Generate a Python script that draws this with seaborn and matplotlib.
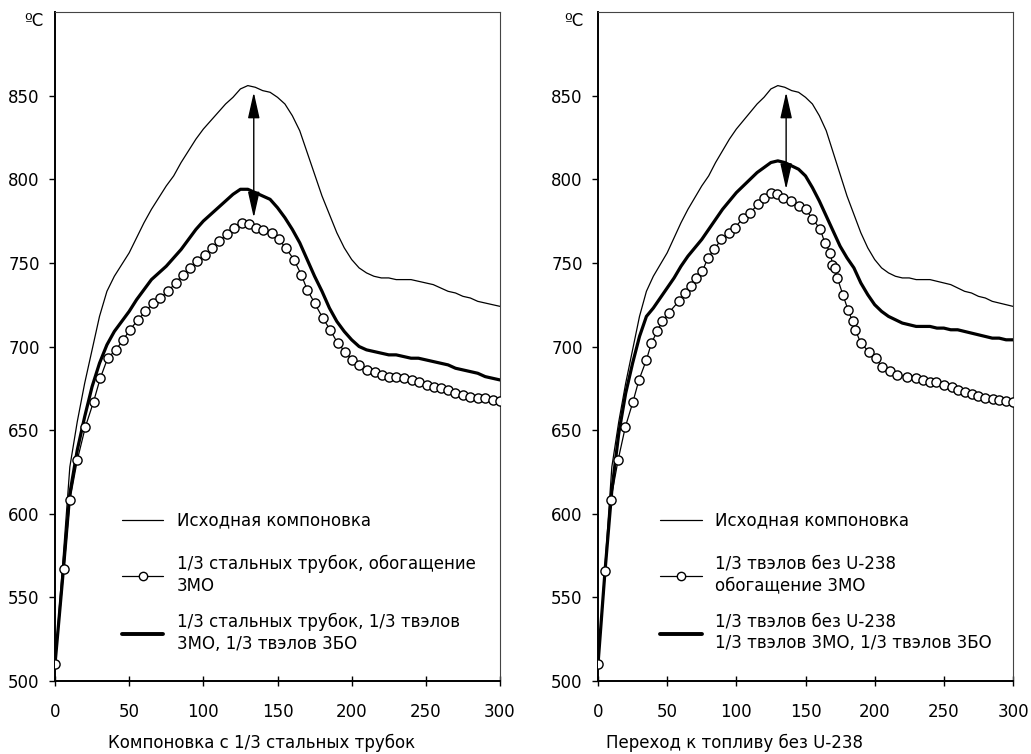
import numpy as np
import pandas as pd
import matplotlib
matplotlib.use("Agg")
import matplotlib.pyplot as plt
import seaborn as sns
from matplotlib.lines import Line2D

# ---------------- data ----------------
x_grid = [0, 5, 10, 15, 20, 25, 30, 35, 40, 45, 50, 55, 60, 65, 70, 75, 80, 85, 90, 95,
          100, 105, 110, 115, 120, 125, 130, 135, 140, 145, 150, 155, 160, 165, 170, 175,
          180, 185, 190, 195, 200, 205, 210, 215, 220, 225, 230, 235, 240, 245, 250, 255,
          260, 265, 270, 275, 280, 285, 290, 295, 300]

# baseline layout (same in both panels)
base_y = [510, 568, 628, 655, 678, 698, 718, 733, 742, 749, 756, 765, 774, 782, 789, 796,
          802, 810, 817, 824, 830, 835, 840, 845, 849, 854, 856, 855, 853, 852, 849, 845,
          838, 829, 816, 803, 790, 779, 768, 759, 752, 747, 744, 742, 741, 741, 740, 740,
          740, 739, 738, 737, 735, 733, 732, 730, 729, 727, 726, 725, 724]

# left panel: 1/3 steel tubes, 1/3 ZMO + 1/3 ZBO (thick)
left_thick_y = [510, 560, 612, 638, 658, 676, 690, 701, 709, 715, 721, 728, 734, 740, 744,
                748, 753, 758, 764, 770, 775, 779, 783, 787, 791, 794, 794, 792, 790, 788,
                783, 777, 770, 762, 752, 742, 733, 723, 715, 709, 704, 700, 698, 697, 696,
                695, 695, 694, 693, 693, 692, 691, 690, 689, 687, 686, 685, 684, 682, 681, 680]

# left panel: 1/3 steel tubes, enrichment ZMO (circles)
left_circ_x = [0, 6, 10, 15, 20.5, 26, 30.5, 35.5, 41, 46, 50.5, 56, 61, 66, 71, 76, 81.5,
               86, 91, 96, 101, 106, 110.5, 116, 120.5, 126, 131, 135.5, 140.5, 146, 151,
               155.5, 161, 166, 170, 175, 180.5, 185.5, 190.5, 195.5, 200.5, 205, 210.5,
               215.5, 220.5, 225.5, 230, 235.5, 240.5, 245.5, 250.5, 255.5, 260, 265, 270,
               275, 280, 285, 290, 295.5, 300]
left_circ_y = [510, 567, 608, 632, 652, 667, 681, 693, 698, 704, 710, 716, 721, 726, 729,
               733, 738, 743, 747, 751, 755, 759, 763, 767, 771, 774, 773, 771, 769.5, 768,
               764, 759, 752, 743, 734, 726, 717, 710, 702, 697, 692, 689, 686, 685, 683,
               682, 682, 681, 680, 679, 677, 676, 675, 674, 672, 671, 670, 669, 669, 668, 667.5]

# right panel: 1/3 fuel rods without U-238, 1/3 ZMO + 1/3 ZBO (thick)
right_thick_y = [510, 565, 614, 648, 672, 690, 706, 718, 723, 729, 735, 741, 748, 754, 759,
                 764, 770, 776, 782, 787, 792, 796, 800, 804, 807, 810, 811, 810, 808, 806,
                 802, 795, 787, 778, 769, 760, 753, 747, 738, 731, 725, 721, 718, 716, 714,
                 713, 712, 712, 712, 711, 711, 710, 710, 709, 708, 707, 706, 705, 705, 704, 704]

# right panel: 1/3 fuel rods without U-238, enrichment ZMO (circles)
right_circ_x = [0, 5.3, 9.2, 14.5, 19.8, 25.3, 29.6, 35, 38.6, 42.7, 46.5, 51, 58.3, 62.7,
                67.5, 71, 75.4, 79.5, 84, 89, 95, 99, 105, 110, 115.7, 120, 125, 129.6, 134,
                139.8, 145, 150, 155, 160.7, 164, 168, 169.5, 171, 173, 177, 180.7, 184, 186,
                190, 195.7, 201, 205, 210.8, 216, 223.6, 230, 235, 239.8, 244.6, 250, 256,
                260, 265.5, 270, 274.7, 280, 285.5, 290, 295, 300]
right_circ_y = [510, 566, 608, 632, 652, 667, 680, 692, 702, 709, 715, 720, 727, 732, 736,
                741, 745, 753, 758, 764, 768, 771, 777, 780, 785, 789, 792, 791, 789, 787,
                784, 782, 776.5, 770, 762, 756, 749, 747, 741, 731, 722, 715, 710, 702, 697,
                693, 688, 685.5, 683, 682, 681, 680, 679, 678.6, 676.7, 675.6, 674, 673,
                671.4, 670.3, 669.4, 668.7, 668, 667.5, 667]

arrow_left = [134, 852, 777]    # x, top, bottom
arrow_right = [136, 852, 794]

x_ticks = [0, 50, 100, 150, 200, 250, 300]
y_ticks = [500, 550, 600, 650, 700, 750, 800, 850]

lbl_base = "Исходная компоновка"
left_labels = [lbl_base,
               "1/3 стальных трубок, обогащение\n3МО",
               "1/3 стальных трубок, 1/3 твэлов\n3МО, 1/3 твэлов 3БО"]
right_labels = [lbl_base,
                "1/3 твэлов без U-238\nобогащение 3МО",
                "1/3 твэлов без U-238\n1/3 твэлов 3МО, 1/3 твэлов 3БО"]
left_xlabel = "Компоновка с 1/3 стальных трубок"
right_xlabel = "Переход к топливу без U-238"
unit = "ºC"

# ---------------- style ----------------
sns.set_style("white")
plt.rcParams["font.family"] = ["DejaVu Sans"]
plt.rcParams["text.color"] = "black"
FS = 12

fig = plt.figure(figsize=(10.31, 7.54), dpi=100)
axL = fig.add_axes([55 / 1031, 73 / 754, 445 / 1031, 669 / 754])
axR = fig.add_axes([598 / 1031, 73 / 754, 415 / 1031, 669 / 754])


def draw(ax, thick_y, cx, cy, labels, arrow):
    sns.lineplot(x=x_grid, y=base_y, ax=ax, color="black", lw=0.9,
                 estimator=None, sort=False, zorder=2)
    sns.lineplot(x=x_grid, y=thick_y, ax=ax, color="black", lw=2.3,
                 estimator=None, sort=False, zorder=3)
    sns.lineplot(x=cx, y=cy, ax=ax, color="black", lw=0.9, marker="o",
                 markersize=6.6, markerfacecolor="white", markeredgecolor="black",
                 markeredgewidth=1.0, estimator=None, sort=False, zorder=4)
    ax.set_xlim(0, 300)
    ax.set_ylim(500, 900)
    ax.set_xticks(x_ticks)
    ax.set_yticks(y_ticks)
    ax.set_xlabel("")
    ax.set_ylabel("")
    ax.tick_params(axis="x", direction="inout", length=7, width=1, pad=12,
                   labelsize=FS, colors="black", labelcolor="black", bottom=True)
    ax.tick_params(axis="y", direction="out", length=4, width=1, pad=7,
                   labelsize=FS, colors="black", labelcolor="black", left=True)
    for s in ["left", "bottom"]:
        ax.spines[s].set_linewidth(1.4)
        ax.spines[s].set_color("black")
    for s in ["top", "right"]:
        ax.spines[s].set_linewidth(0.8)
        ax.spines[s].set_color("#444444")
    ax.annotate("", xy=(arrow[0], arrow[2]), xytext=(arrow[0], arrow[1]),
                arrowprops=dict(arrowstyle="<|-|>,head_length=0.8,head_width=0.18",
                                mutation_scale=20, color="black", lw=1.0,
                                shrinkA=0, shrinkB=0), zorder=5)
    h_thin = Line2D([], [], color="black", lw=0.9)
    h_circ = Line2D([], [], color="black", lw=0.9, marker="o", markersize=6,
                    markerfacecolor="white", markeredgecolor="black")
    h_thick = Line2D([], [], color="black", lw=2.8)
    common = dict(loc="upper left", frameon=False, fontsize=FS, handlelength=2.5,
                  handletextpad=0.8, borderpad=0, borderaxespad=0, labelcolor="black")
    leg1 = ax.legend([h_thin], [labels[0]], bbox_to_anchor=(0.15, 0.253), **common)
    ax.add_artist(leg1)
    leg2 = ax.legend([h_circ, h_thick], labels[1:], bbox_to_anchor=(0.15, 0.189),
                     labelspacing=1.05, **common)
    for t in leg2.get_texts():
        t.set_linespacing(1.3)


draw(axL, left_thick_y, left_circ_x, left_circ_y, left_labels, arrow_left)
draw(axR, right_thick_y, right_circ_x, right_circ_y, right_labels, arrow_right)

fig.text(34 / 1031, 1 - 21 / 754, unit, ha="center", va="center", fontsize=FS)
fig.text(574 / 1031, 1 - 21 / 754, unit, ha="center", va="center", fontsize=FS)
fig.text(262 / 1031, 1 - 743 / 754, left_xlabel, ha="center", va="center", fontsize=FS)
fig.text(734 / 1031, 1 - 743 / 754, right_xlabel, ha="center", va="center", fontsize=FS)

fig.savefig("out.png", dpi=100)
